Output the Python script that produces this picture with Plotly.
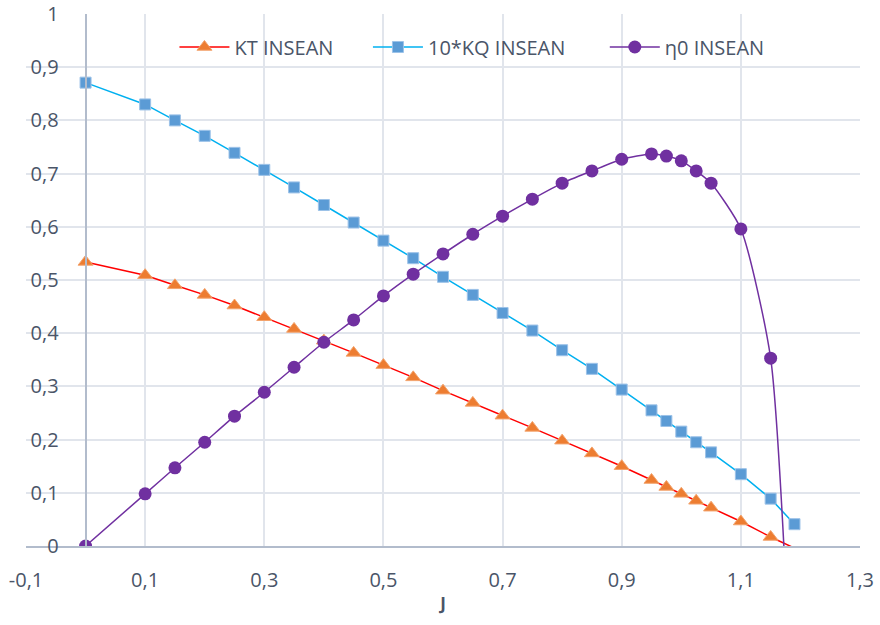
import plotly.graph_objects as go

# Advance ratio J
J = [0, 0.1, 0.15, 0.2, 0.25, 0.3, 0.35, 0.4, 0.45, 0.5, 0.55, 0.6, 0.65, 0.7,
     0.75, 0.8, 0.85, 0.9, 0.95, 0.975, 1.0, 1.025, 1.05, 1.1, 1.15, 1.19]

# Thrust coefficient
kt = [0.534, 0.509, 0.490, 0.472, 0.452, 0.430, 0.408, 0.386, 0.363, 0.340,
      0.317, 0.292, 0.269, 0.245, 0.222, 0.198, 0.174, 0.150, 0.124, 0.111,
      0.098, 0.085, 0.072, 0.046, 0.017, -0.004]

# Torque coefficient x10
kq10 = [0.871, 0.830, 0.800, 0.771, 0.739, 0.707, 0.674, 0.641, 0.608, 0.574,
        0.541, 0.506, 0.472, 0.438, 0.405, 0.368, 0.333, 0.294, 0.255, 0.235,
        0.215, 0.195, 0.176, 0.135, 0.089, 0.041]

# Open-water efficiency
eta0 = [0.0, 0.098, 0.147, 0.195, 0.244, 0.289, 0.336, 0.383, 0.425, 0.470,
        0.511, 0.549, 0.586, 0.620, 0.652, 0.682, 0.705, 0.727, 0.737, 0.733,
        0.724, 0.705, 0.682, 0.596, 0.353, -0.42]

x_tickvals = [-0.1, 0.1, 0.3, 0.5, 0.7, 0.9, 1.1, 1.3]
x_ticktext = ["-0,1", "0,1", "0,3", "0,5", "0,7", "0,9", "1,1", "1,3"]
y_tickvals = [0, 0.1, 0.2, 0.3, 0.4, 0.5, 0.6, 0.7, 0.8, 0.9, 1]
y_ticktext = ["0", "0,1", "0,2", "0,3", "0,4", "0,5", "0,6", "0,7", "0,8", "0,9", "1"]

FONT = "Open Sans"
TXT = "#4a5568"
GRID = "#e1e5ec"
AXIS = "#b2bccc"
FS = 20

# KT points below the axis floor: the line still runs to them, but no marker
n_in = sum(1 for v in kt if v >= 0)
J_kt_in, kt_in = J[:n_in], kt[:n_in]
J_kt_tail, kt_tail = J[n_in - 1:], kt[n_in - 1:]

fig = go.Figure()

fig.add_trace(go.Scatter(
    x=J_kt_tail, y=kt_tail, mode="lines", showlegend=False, hoverinfo="skip",
    line=dict(color="#ff0000", width=1.5),
))
fig.add_trace(go.Scatter(
    x=J_kt_in, y=kt_in, name="KT INSEAN", mode="lines+markers",
    line=dict(color="#ff0000", width=1.5),
    marker=dict(symbol="triangle-up", size=13, color="#ed7d31",
                line=dict(color="#f3a36c", width=1)),
    legend="legend",
))
fig.add_trace(go.Scatter(
    x=J, y=kq10, name="10*KQ INSEAN", mode="lines+markers",
    line=dict(color="#00b0f0", width=1.5),
    marker=dict(symbol="square", size=11, color="#5b9bd5",
                line=dict(color="#9cc2e8", width=1)),
    legend="legend2",
))
fig.add_trace(go.Scatter(
    x=J, y=eta0, name="η0 INSEAN", mode="lines+markers",
    line=dict(color="#7030a0", width=1.5, shape="spline", smoothing=0.6),
    marker=dict(symbol="circle", size=13, color="#7030a0"),
    legend="legend3",
))

legend_common = dict(
    orientation="h", bgcolor="rgba(0,0,0,0)", font=dict(family=FONT, size=FS, color=TXT),
    yanchor="middle", y=0.938, xanchor="left", itemwidth=50,
)

fig.update_layout(
    width=880, height=625,
    margin=dict(l=26, r=20, t=14, b=79),
    paper_bgcolor="white", plot_bgcolor="white",
    font=dict(family=FONT, size=FS, color=TXT),
    showlegend=True,
    legend=dict(legend_common, x=0.178),
    legend2=dict(legend_common, x=0.41),
    legend3=dict(legend_common, x=0.694),
    xaxis=dict(
        range=[-0.1, 1.3], tickvals=x_tickvals, ticktext=x_ticktext,
        automargin=False,
        showgrid=True, gridcolor=GRID, gridwidth=2,
        zeroline=False, showline=True, linecolor=AXIS, linewidth=2,
        ticks="", ticklabelstandoff=15,
        tickfont=dict(family=FONT, size=FS, color=TXT),
        title=dict(text="<b>J</b>", font=dict(family=FONT, size=17, color=TXT), standoff=6),
    ),
    yaxis=dict(
        range=[0, 1], tickvals=y_tickvals, ticktext=y_ticktext,
        automargin=False,
        anchor="free", position=0.1 / 1.4,
        showgrid=True, gridcolor=GRID, gridwidth=2,
        zeroline=False, showline=True, linecolor=AXIS, linewidth=2,
        ticks="", ticklabelstandoff=22,
        tickfont=dict(family=FONT, size=FS, color=TXT),
    ),
)

fig.write_html("out.html")
